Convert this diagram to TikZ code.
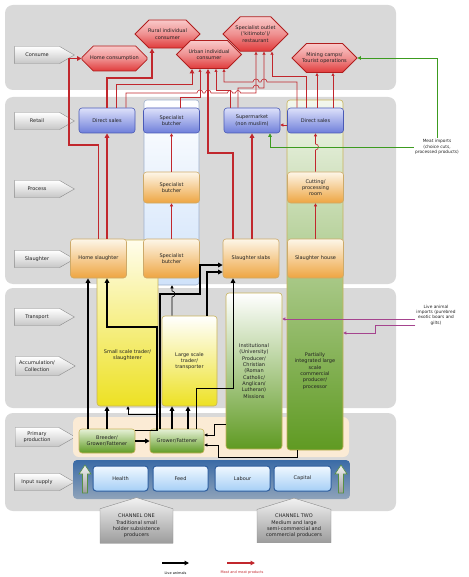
\documentclass[tikz,border=0pt]{standalone}
\usepackage{fontspec}
\setmainfont{DejaVu Sans}
\usetikzlibrary{arrows.meta}
\usetikzlibrary{shapes.misc}
\usetikzlibrary{shapes.symbols}
\definecolor{bandgrey}{HTML}{D9D9D9}
\definecolor{stageline}{HTML}{8C8C8C}
\definecolor{stagegrey}{HTML}{C6C6C6}
\definecolor{constop}{HTML}{F9CACA}
\definecolor{consbot}{HTML}{E03A3A}
\definecolor{consline}{HTML}{B01E1E}
\definecolor{retailtop}{HTML}{DDE1FA}
\definecolor{retailbot}{HTML}{6E7EDA}
\definecolor{retailline}{HTML}{4A5AB6}
\definecolor{orangetop}{HTML}{FDF6E8}
\definecolor{orangebot}{HTML}{EEA541}
\definecolor{tanline}{HTML}{CDAA6A}
\definecolor{sbbot}{HTML}{CFE2FA}
\definecolor{sbline}{HTML}{9EB0CC}
\definecolor{greentop}{HTML}{F3F7EE}
\definecolor{greenmid}{HTML}{CFE0BA}
\definecolor{greenbot}{HTML}{5F9A22}
\definecolor{oliveline}{HTML}{C8B35A}
\definecolor{yellowtop}{HTML}{FFFDEC}
\definecolor{yellowbot}{HTML}{EDE123}
\definecolor{primcream}{HTML}{FBEBD5}
\definecolor{boxgreentop}{HTML}{E6F1D6}
\definecolor{inputtop}{HTML}{3A6BA6}
\definecolor{inputbot}{HTML}{8FA3BA}
\definecolor{inputboxtop}{HTML}{F0F8FF}
\definecolor{inputboxbot}{HTML}{A6CFF6}
\definecolor{inputline}{HTML}{2E5E9E}
\definecolor{chantop}{HTML}{F2F2F2}
\definecolor{chanbot}{HTML}{9C9C9C}
\definecolor{meatred}{HTML}{C1272D}
\definecolor{importgreen}{HTML}{3C9B1F}
\definecolor{exoticpurple}{HTML}{A5448E}
\definecolor{textgrey}{HTML}{222222}
\newcommand{\boxfont}{\fontsize{5}{6.3}\selectfont}
\newcommand{\notefont}{\fontsize{4.3}{5.3}\selectfont}
\newcommand{\legendfont}{\fontsize{3.5}{4}\selectfont}
\tikzset{band/.style={fill=bandgrey, rounded corners=8pt}}
\tikzset{stage/.style={signal, signal to=east, signal pointer angle=60, draw=stageline,
    top color=white, bottom color=stagegrey, minimum width=60pt, minimum height=17pt,
    inner sep=1pt, align=center, font=\boxfont, text=textgrey}}
\tikzset{consumer/.style={chamfered rectangle, chamfered rectangle xsep=13pt,
    chamfered rectangle ysep=8pt, draw=consline, line width=0.8pt, top color=constop,
    bottom color=consbot, middle color=constop!60!consbot, minimum width=65pt,
    minimum height=25pt, inner sep=1pt, align=center, font=\boxfont, text=textgrey}}
\tikzset{retail/.style={rectangle, rounded corners=3pt, draw=retailline, line width=0.6pt,
    top color=retailtop, bottom color=retailbot, minimum width=56pt, minimum height=25pt,
    inner sep=1pt, align=center, font=\boxfont, text=textgrey}}
\tikzset{orangebox/.style={rectangle, rounded corners=3pt, draw=tanline, line width=0.6pt,
    top color=orangetop, bottom color=orangebot, minimum width=56pt, inner sep=1pt,
    align=center, font=\boxfont, text=textgrey}}
\tikzset{column/.style={rectangle, rounded corners=3pt, line width=0.6pt, inner sep=1pt,
    align=center, font=\boxfont, text=textgrey}}
\tikzset{greenbox/.style={rectangle, rounded corners=3pt, draw=oliveline, line width=0.6pt,
    top color=boxgreentop, bottom color=greenbot, minimum height=24pt, inner sep=1pt,
    align=center, font=\boxfont, text=textgrey}}
\tikzset{inputbox/.style={rectangle, rounded corners=3pt, draw=inputline, line width=1pt,
    top color=inputboxtop, bottom color=inputboxbot, minimum width=55pt, minimum height=25pt,
    inner sep=1pt, font=\boxfont, text=textgrey}}
\tikzset{channel/.style={signal, signal to=north, signal pointer angle=146, draw=stageline,
    top color=chantop, bottom color=chanbot, minimum width=73pt, minimum height=42pt,
    inner sep=1pt, align=center, font=\boxfont, text=textgrey}}
\tikzset{note/.style={inner sep=1pt, align=center, font=\notefont, text=textgrey}}
\tikzset{meat/.style={draw=meatred, line width=0.6pt, -{Triangle[length=3pt,width=3pt]}}}
\tikzset{meatthick/.style={draw=meatred, line width=1.3pt, -{Triangle[length=4.5pt,width=4.5pt]}}}
\tikzset{live/.style={draw=black, line width=0.6pt, -{Triangle[length=3pt,width=3pt]}}}
\tikzset{livethick/.style={draw=black, line width=1.3pt, -{Triangle[length=4.5pt,width=4.5pt]}}}
\tikzset{import/.style={draw=importgreen, line width=0.8pt, -{Triangle[length=3.5pt,width=3.5pt]}}}
\tikzset{exotic/.style={draw=exoticpurple, line width=0.7pt, -{Triangle[length=3pt,width=3pt]}}}
\begin{document}
\begin{tikzpicture}[x=1pt,y=-1pt]
\useasboundingbox (0,0) rectangle (468,577);
% stage bands
\path[band] (5,5) rectangle (396,90);
\path[band] (5,97) rectangle (396,284);
\path[band] (5,288) rectangle (396,408);
\path[band] (5,413) rectangle (396,511);
\node[stage] (consume) at (37,55) {Consume};
\node[stage] (retailstage) at (37,121) {Retail};
\node[stage] (process) at (37,189) {Process};
\node[stage] (slaughter) at (37,259) {Slaughter};
\node[stage] (transport) at (37,317) {Transport};
\node[stage, minimum height=19pt] (accum) at (37,366) {Accumulation/\\Collection};
\node[stage, minimum height=19pt] (primary) at (37,437) {Primary\\production};
\node[stage] (inputstage) at (37,482) {Input supply};
% primary production and input bands
\path[fill=primcream, rounded corners=6pt] (73,417) rectangle (349,457);
\path[top color=inputtop, bottom color=inputbot, rounded corners=4pt] (73,460) rectangle (350,499);
% columns
\node[column, draw=sbline, top color=white, bottom color=sbbot,
  minimum width=55pt, minimum height=185pt] (sbcol) at (171.5,192.5) {};
\node[column, draw=oliveline, top color=greentop, middle color=greenmid, bottom color=greenbot,
  minimum width=56pt, minimum height=350pt] (rightcol) at (315,275) {};
\node[column, draw=oliveline, top color=yellowtop, bottom color=yellowbot,
  minimum width=61pt, minimum height=166pt] (smallcol) at (127.5,323) {};
\node[column, draw=oliveline, top color=white, bottom color=yellowbot,
  minimum width=55pt, minimum height=90pt] (largecol) at (189.5,361) {Large scale\\trader/\\transporter};
\node[column, draw=oliveline, top color=white, bottom color=greenbot,
  minimum width=56pt, minimum height=156pt] (instcol) at (254,371)
  {Institutional\\(University)\\Producer/\\Christian\\(Roman\\Catholic/\\Anglican/\\Lutheran)\\Missions};
\node[note, font=\boxfont] (smalltext) at (127.5,355) {Small scale trader/\\slaughterer};
\node[note, font=\boxfont] (pitext) at (315,371) {Partially\\integrated large\\scale\\commercial\\producer/\\processor};
% consumers
\node[consumer] (homecons) at (114.5,58.5) {Home consumption};
\node[consumer, minimum height=26pt] (rural) at (167.5,34) {Rural individual\\consumer};
\node[consumer] (urban) at (209,54.5) {Urban individual\\consumer};
\node[consumer, minimum height=27pt] (specout) at (255.5,34) {Specialist outlet\\(‘kitimoto’)/\\restaurant};
\node[consumer, minimum height=26pt] (mining) at (324.5,58) {Mining camps/\\Tourist operations};
% retail
\node[retail] (dsl) at (107,120.5) {Direct sales};
\node[retail] (sbr) at (171.5,120.5) {Specialist\\butcher};
\node[retail] (smk) at (252,120.5) {Supermarket\\(non muslim)};
\node[retail] (dsr) at (315.5,120.5) {Direct sales};
% process and slaughter
\node[orangebox, minimum height=31pt] (sbp) at (171.5,187.5) {Specialist\\butcher};
\node[orangebox, minimum height=31pt] (cut) at (315.5,187.5) {Cutting/\\processing\\room};
\node[orangebox, minimum height=39pt] (homesl) at (98.5,258.5) {Home slaughter};
\node[orangebox, minimum height=39pt] (sbs) at (171.5,258.5) {Specialist\\butcher};
\node[orangebox, minimum height=39pt] (slabs) at (251,258.5) {Slaughter slabs};
\node[orangebox, minimum height=39pt] (slhouse) at (315.5,258.5) {Slaughter house};
% primary production and inputs
\node[greenbox, minimum width=56pt] (breeder) at (107,441) {Breeder/\\Grower/Fattener};
\node[greenbox, minimum width=54pt] (grower) at (177,441) {Grower/Fattener};
\node[inputbox] (health) at (120.5,478.5) {Health};
\node[inputbox] (feed) at (180.5,478.5) {Feed};
\node[inputbox] (labour) at (242.5,478.5) {Labour};
\node[inputbox, minimum width=57pt] (capital) at (302.5,478.5) {Capital};
\draw[draw=importgreen!60!gray, top color=chantop, bottom color=chanbot, line width=0.6pt]
  (82.5,493) -- (82.5,474) -- (79,474) -- (85,465) -- (91,474) -- (87.5,474) -- (87.5,493) -- cycle;
\draw[draw=importgreen!60!gray, top color=chantop, bottom color=chanbot, line width=0.6pt]
  (338.5,493) -- (338.5,474) -- (335,474) -- (341,465) -- (347,474) -- (343.5,474) -- (343.5,493) -- cycle;
% channels
\node[channel] (chanone) at (136.5,526) {CHANNEL ONE\\Traditional small\\holder subsistence\\producers};
\node[channel, minimum width=74pt] (chantwo) at (294,526) {CHANNEL TWO\\Medium and large\\semi-commercial and\\commercial producers};
% imports
\node[note] (meatimp) at (437,147) {Meat imports\\(choice cuts,\\processed products)};
\node[note] (liveimp) at (436,315) {Live animal\\imports (purebred\\exotic boars and\\gilts)};
% meat flows
\draw[meatthick] (homesl.north) |- (69,145) |- (homecons.west);
\draw[meatthick] (homesl.north -| 107,0) -- (dsl.south);
\draw[meatthick] (dsl.north) |- (152,78) -- (rural.south -| 152,0);
\draw[meatthick, line width=1pt] (dsl.north -| 116,0) |- (192,85) -- (urban.south -| 192,0);
\draw[meat] (dsl.north -| 126,0) -- (126,93) -- (197,93) arc[start angle=180,end angle=360,radius=3]
  -- (205,93) arc[start angle=180,end angle=360,radius=3] -- (227.5,93)
  arc[start angle=180,end angle=360,radius=2.5] -- (235.5,93) arc[start angle=180,end angle=360,radius=2.5]
  -- (256,93) -- (specout.south -| 256,0);
\draw[meat] (sbr.north -| 180,0) |- (200,97) -- (urban.south -| 200,0);
\draw[meat] (smk.north -| 230,0) |- (216,90) -- (urban.south -| 216,0);
\draw[meat] (smk.north -| 238,0) -- (238,88) -- (253,88) arc[start angle=180,end angle=360,radius=3]
  -- (264,88) -- (specout.south -| 264,0);
\draw[meat] (dsr.north -| 297,0) -- (297,82) -- (267,82) arc[start angle=0,end angle=-180,radius=3]
  -- (259,82) arc[start angle=0,end angle=-180,radius=3] -- (224,82) -- (urban.south -| 224,0);
\draw[meat] (dsr.north -| 306,0) |- (272,76) -- (specout.south -| 272,0);
\draw[meat] (dsr.north -| 317,0) -- (mining.south -| 317,0);
\draw[meat] (dsr.north -| 333,0) -- (mining.south -| 333,0);
\draw[meat] (sbs.north) -- (sbp.south);
\draw[meat] (sbp.north) -- (sbr.south);
\draw[meat] (slhouse.north) -- (cut.south);
\draw[meat] (cut.north) -- (315.5,150) arc[start angle=90,end angle=-90,radius=3] -- (dsr.south);
\draw[meat] (dsr.west |- 0,125) -- (smk.east |- 0,125);
\draw[meatthick] (slabs.north -| 233,0) |- (208,153) -- (urban.south -| 208,0);
\draw[meatthick] (slabs.north -| 252,0) -- (smk.south -| 252,0);
% live animal flows
\draw[livethick] (breeder.north -| 88,0) -- (homesl.south -| 88,0);
\draw[livethick] (breeder.north) -- (smallcol.south -| 107,0);
\draw[livethick] ([yshift=-2pt]breeder.north east) -| (157,327) -| (homesl.south -| 107,0);
\draw[livethick] (grower.north -| 160,0) |- (200,294) |- (slabs.west |- 0,265);
\draw[livethick] (largecol.north -| 207,0) |- (slabs.west |- 0,272);
\draw[live] (largecol.north -| 172,0) -- (172,297) arc[start angle=90,end angle=-90,radius=3]
  -- (sbcol.south -| 172,0);
\coordinate (branch) at (157,414);
\draw[live] (branch) -| (smallcol.south -| 128,0);
\draw[livethick] (grower.north -| 172,0) -- (largecol.south -| 172,0);
\draw[livethick] (grower.north -| 188,0) -- (largecol.south -| 188,0);
\draw[livethick, line width=1pt] (grower.north -| 196,0) |- (233,388) -- (slabs.south -| 233,0);
\draw[livethick] (breeder.east) -- (grower.west);
\draw[live] (instcol.west |- 0,424) -| (214,435) -- (grower.east |- 0,435);
\draw[live] (rightcol.south -| 297,0) |- (218,457) |- (grower.east |- 0,445);
% imports
\draw[import] (meatimp.north) |- (mining.east);
\draw[import] (meatimp.west) -| (smk.south -| 270,0);
\draw[exotic] (liveimp.west |- 0,319) -- (instcol.east |- 0,319);
\draw[exotic] (liveimp.west |- 0,325) -| (375,333) -- (rightcol.east |- 0,333);
% legend
\coordinate (livea) at (162,563);
\coordinate (liveb) at (189,563);
\coordinate (meata) at (227,563);
\coordinate (meatb) at (255,563);
\draw[livethick] (livea) -- (liveb);
\draw[meatthick] (meata) -- (meatb);
\node[font=\legendfont, inner sep=0pt] (livetext) at (175.5,573) {Live animals};
\node[font=\legendfont, inner sep=0pt, text=meatred] (meattext) at (242,573) {Meat and meat products};
\end{tikzpicture}
\end{document}
